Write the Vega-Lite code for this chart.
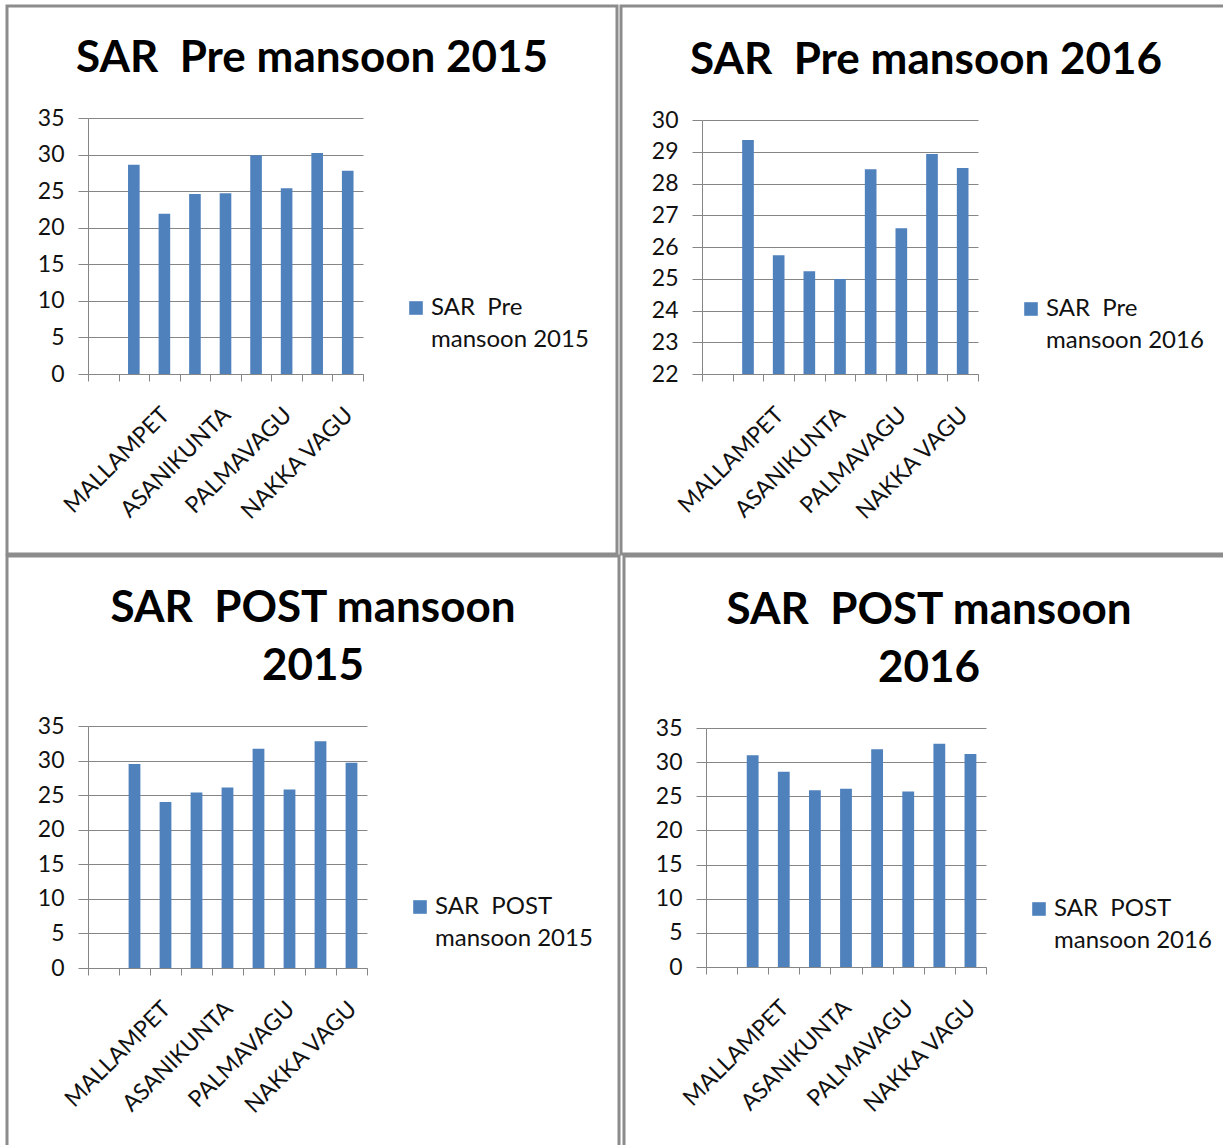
{
  "$schema": "https://vega.github.io/schema/vega-lite/v6.json",
  "background": "white",
  "padding": {"left": -3, "top": 4, "right": 0, "bottom": 0},
  "data": {"values": [
    {"panel": "pre2015", "series": "SAR  Pre mansoon 2015", "pos": 2, "site": "", "sar": 28.6},
    {"panel": "pre2015", "series": "SAR  Pre mansoon 2015", "pos": 3, "site": "MALLAMPET", "sar": 21.9},
    {"panel": "pre2015", "series": "SAR  Pre mansoon 2015", "pos": 4, "site": "", "sar": 24.6},
    {"panel": "pre2015", "series": "SAR  Pre mansoon 2015", "pos": 5, "site": "ASANIKUNTA", "sar": 24.7},
    {"panel": "pre2015", "series": "SAR  Pre mansoon 2015", "pos": 6, "site": "", "sar": 29.9},
    {"panel": "pre2015", "series": "SAR  Pre mansoon 2015", "pos": 7, "site": "PALMAVAGU", "sar": 25.4},
    {"panel": "pre2015", "series": "SAR  Pre mansoon 2015", "pos": 8, "site": "", "sar": 30.2},
    {"panel": "pre2015", "series": "SAR  Pre mansoon 2015", "pos": 9, "site": "NAKKA VAGU", "sar": 27.8},
    {"panel": "pre2016", "series": "SAR  Pre mansoon 2016", "pos": 2, "site": "", "sar": 29.37},
    {"panel": "pre2016", "series": "SAR  Pre mansoon 2016", "pos": 3, "site": "MALLAMPET", "sar": 25.74},
    {"panel": "pre2016", "series": "SAR  Pre mansoon 2016", "pos": 4, "site": "", "sar": 25.24},
    {"panel": "pre2016", "series": "SAR  Pre mansoon 2016", "pos": 5, "site": "ASANIKUNTA", "sar": 24.99},
    {"panel": "pre2016", "series": "SAR  Pre mansoon 2016", "pos": 6, "site": "", "sar": 28.45},
    {"panel": "pre2016", "series": "SAR  Pre mansoon 2016", "pos": 7, "site": "PALMAVAGU", "sar": 26.59},
    {"panel": "pre2016", "series": "SAR  Pre mansoon 2016", "pos": 8, "site": "", "sar": 28.93},
    {"panel": "pre2016", "series": "SAR  Pre mansoon 2016", "pos": 9, "site": "NAKKA VAGU", "sar": 28.49},
    {"panel": "post2015", "series": "SAR  POST mansoon 2015", "pos": 2, "site": "", "sar": 29.5},
    {"panel": "post2015", "series": "SAR  POST mansoon 2015", "pos": 3, "site": "MALLAMPET", "sar": 24.0},
    {"panel": "post2015", "series": "SAR  POST mansoon 2015", "pos": 4, "site": "", "sar": 25.4},
    {"panel": "post2015", "series": "SAR  POST mansoon 2015", "pos": 5, "site": "ASANIKUNTA", "sar": 26.1},
    {"panel": "post2015", "series": "SAR  POST mansoon 2015", "pos": 6, "site": "", "sar": 31.7},
    {"panel": "post2015", "series": "SAR  POST mansoon 2015", "pos": 7, "site": "PALMAVAGU", "sar": 25.8},
    {"panel": "post2015", "series": "SAR  POST mansoon 2015", "pos": 8, "site": "", "sar": 32.8},
    {"panel": "post2015", "series": "SAR  POST mansoon 2015", "pos": 9, "site": "NAKKA VAGU", "sar": 29.7},
    {"panel": "post2016", "series": "SAR  POST mansoon 2016", "pos": 2, "site": "", "sar": 31.0},
    {"panel": "post2016", "series": "SAR  POST mansoon 2016", "pos": 3, "site": "MALLAMPET", "sar": 28.6},
    {"panel": "post2016", "series": "SAR  POST mansoon 2016", "pos": 4, "site": "", "sar": 25.9},
    {"panel": "post2016", "series": "SAR  POST mansoon 2016", "pos": 5, "site": "ASANIKUNTA", "sar": 26.1},
    {"panel": "post2016", "series": "SAR  POST mansoon 2016", "pos": 6, "site": "", "sar": 31.9},
    {"panel": "post2016", "series": "SAR  POST mansoon 2016", "pos": 7, "site": "PALMAVAGU", "sar": 25.7},
    {"panel": "post2016", "series": "SAR  POST mansoon 2016", "pos": 8, "site": "", "sar": 32.7},
    {"panel": "post2016", "series": "SAR  POST mansoon 2016", "pos": 9, "site": "NAKKA VAGU", "sar": 31.2}
  ]},
  "spacing": -2,
  "resolve": {"scale": {"color": "independent", "x": "independent", "y": "independent"}, "legend": {"color": "independent"}},
  "vconcat": [
    {
      "spacing": 4,
      "bounds": "flush",
      "resolve": {"scale": {"color": "independent", "x": "independent", "y": "independent"}, "legend": {"color": "independent"}},
      "hconcat": [
        {
          "width": 610, "height": 548,
          "title": {"text": "SAR\u00a0 Pre mansoon 2015", "offset": -75},
          "transform": [{"filter": "datum.panel == 'pre2015'"}],
          "mark": {"type": "bar", "width": {"band": 0.38}},
          "encoding": {
            "x": {"field": "pos", "type": "ordinal",
              "scale": {"domain": [1,2,3,4,5,6,7,8,9], "range": [81, 356], "paddingInner": 0, "paddingOuter": 0},
              "axis": {"offset": -180}},
            "y": {"field": "sar", "type": "quantitative",
              "scale": {"domain": [0, 35], "range": [368, 112], "nice": false},
              "axis": {"values": [0,5,10,15,20,25,30,35], "offset": -81}},
            "color": {"field": "series", "type": "nominal", "scale": {"range": ["#4F81BD"]},
              "legend": {"legendX": 397, "legendY": 290,
                "encode": {"labels": {"update": {"lineHeight": {"value": 32}}}},
                "labelExpr": "[replace(slice(datum.label, 0, indexof(datum.label, ' mansoon')), '  ', '\u00a0 '), slice(datum.label, indexof(datum.label, ' mansoon') + 1)]"}}
          }
        },
        {
          "width": 610, "height": 548,
          "title": {"text": "SAR\u00a0 Pre mansoon 2016", "offset": -77},
          "transform": [{"filter": "datum.panel == 'pre2016'"}],
          "mark": {"type": "bar", "width": {"band": 0.38}},
          "encoding": {
            "x": {"field": "pos", "type": "ordinal",
              "scale": {"domain": [1,2,3,4,5,6,7,8,9], "range": [81, 357], "paddingInner": 0, "paddingOuter": 0},
              "axis": {"offset": -180}},
            "y": {"field": "sar", "type": "quantitative",
              "scale": {"domain": [22, 30], "range": [368, 114], "nice": false, "zero": false},
              "axis": {"values": [22,23,24,25,26,27,28,29,30], "offset": -81}},
            "y2": {"datum": 22},
            "color": {"field": "series", "type": "nominal", "scale": {"range": ["#4F81BD"]},
              "legend": {"legendX": 398, "legendY": 291,
                "encode": {"labels": {"update": {"lineHeight": {"value": 32}}}},
                "labelExpr": "[replace(slice(datum.label, 0, indexof(datum.label, ' mansoon')), '  ', '\u00a0 '), slice(datum.label, indexof(datum.label, ' mansoon') + 1)]"}}
          }
        }
      ]
    },
    {
      "spacing": 5,
      "bounds": "flush",
      "resolve": {"scale": {"color": "independent", "x": "independent", "y": "independent"}, "legend": {"color": "independent"}},
      "hconcat": [
        {
          "width": 612, "height": 592,
          "title": {"text": ["SAR\u00a0 POST mansoon", "2015"], "offset": -133},
          "transform": [{"filter": "datum.panel == 'post2015'"}],
          "mark": {"type": "bar", "width": {"band": 0.38}},
          "encoding": {
            "x": {"field": "pos", "type": "ordinal",
              "scale": {"domain": [1,2,3,4,5,6,7,8,9], "range": [81, 360], "paddingInner": 0, "paddingOuter": 0},
              "axis": {"offset": -180}},
            "y": {"field": "sar", "type": "quantitative",
              "scale": {"domain": [0, 35], "range": [412, 170], "nice": false},
              "axis": {"values": [0,5,10,15,20,25,30,35], "offset": -81}},
            "color": {"field": "series", "type": "nominal", "scale": {"range": ["#4F81BD"]},
              "legend": {"legendX": 401, "legendY": 339,
                "encode": {"labels": {"update": {"lineHeight": {"value": 32}}}},
                "labelExpr": "[replace(slice(datum.label, 0, indexof(datum.label, ' mansoon')), '  ', '\u00a0 '), slice(datum.label, indexof(datum.label, ' mansoon') + 1)]"}}
          }
        },
        {
          "width": 610, "height": 592,
          "title": {"text": ["SAR\u00a0 POST mansoon", "2016"], "offset": -135},
          "transform": [{"filter": "datum.panel == 'post2016'"}],
          "mark": {"type": "bar", "width": {"band": 0.38}},
          "encoding": {
            "x": {"field": "pos", "type": "ordinal",
              "scale": {"domain": [1,2,3,4,5,6,7,8,9], "range": [82, 362], "paddingInner": 0, "paddingOuter": 0},
              "axis": {"offset": -181}},
            "y": {"field": "sar", "type": "quantitative",
              "scale": {"domain": [0, 35], "range": [411, 172], "nice": false},
              "axis": {"values": [0,5,10,15,20,25,30,35], "offset": -82}},
            "color": {"field": "series", "type": "nominal", "scale": {"range": ["#4F81BD"]},
              "legend": {"legendX": 403, "legendY": 341,
                "encode": {"labels": {"update": {"lineHeight": {"value": 32}}}},
                "labelExpr": "[replace(slice(datum.label, 0, indexof(datum.label, ' mansoon')), '  ', '\u00a0 '), slice(datum.label, indexof(datum.label, ' mansoon') + 1)]"}}
          }
        }
      ]
    }
  ],
  "config": {
    "font": "Lato",
    "view": {"stroke": "#8c8c8c", "strokeWidth": 3},
    "title": {"font": "Lato", "fontSize": 44, "fontWeight": "bold", "color": "#000000", "anchor": "middle", "frame": "group", "lineHeight": 58},
    "bar": {"color": "#4F81BD"},
    "style": {"guide-label": {"lineHeight": 32}},
    "axis": {"domainColor": "#868686", "tickColor": "#868686", "gridColor": "#868686", "labelFont": "Lato", "labelFontSize": 23, "labelColor": "#111111", "title": null},
    "axisX": {"grid": false, "tickBand": "extent", "tickSize": 7, "labelAngle": -45, "labelAlign": "right", "labelBaseline": "middle", "labelPadding": 30, "labelOffset": 1, "labelOverlap": false,
      "labelExpr": "({'3': 'MALLAMPET', '5': 'ASANIKUNTA', '7': 'PALMAVAGU', '9': 'NAKKA VAGU'})[datum.value] || ''"},
    "axisY": {"grid": true, "tickSize": 10, "labelPadding": 14},
    "legend": {"orient": "none", "title": null, "symbolType": "square", "symbolSize": 185, "symbolStrokeWidth": 0, "labelFont": "Lato", "labelFontSize": 24, "labelColor": "#111111", "labelOffset": 3, "padding": 0, "labelLimit": 300}
  }
}
